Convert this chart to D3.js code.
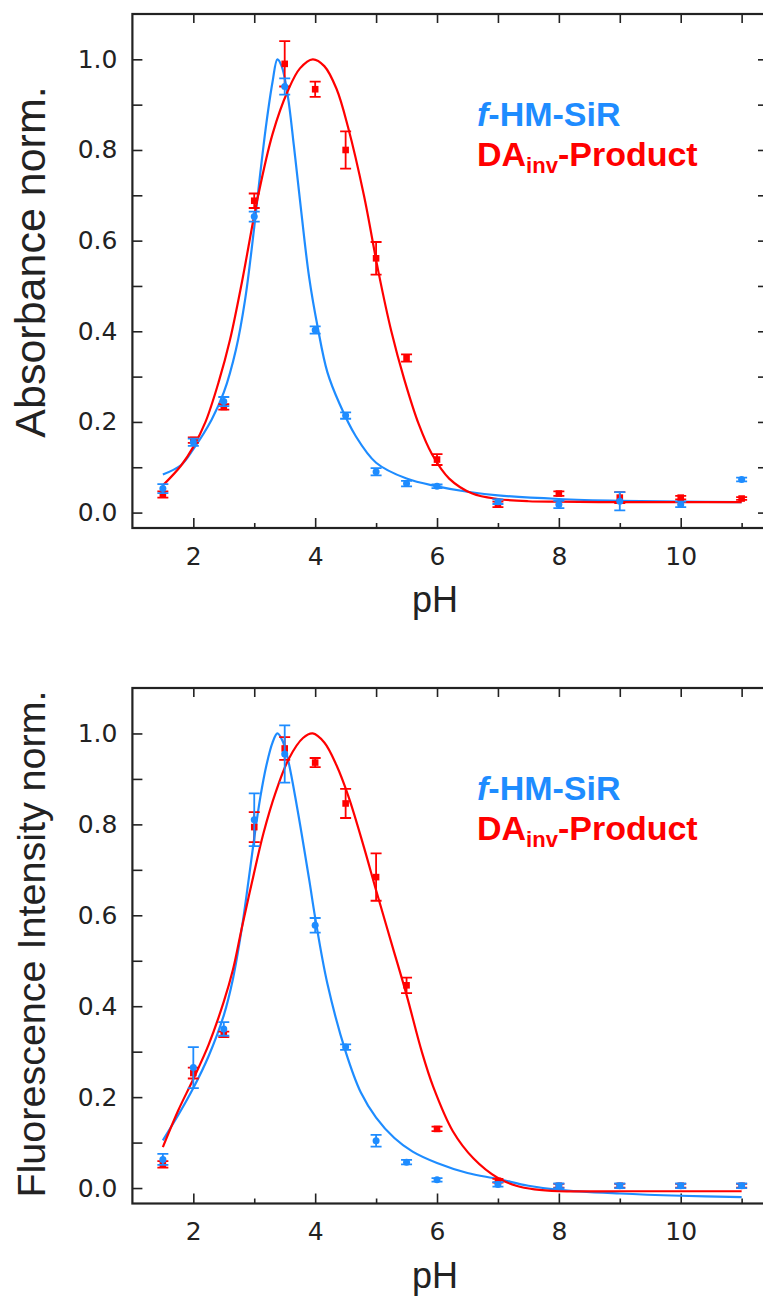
<!DOCTYPE html>
<html>
<head>
<meta charset="utf-8">
<script src="https://cdn.jsdelivr.net/npm/d3@7"></script>
<style>
  body { margin: 0; background: #fff; }
  .tick text { font-family: "DejaVu Sans", Verdana, sans-serif; font-size: 25px; fill: #222; }
  .tick line { stroke: #222; stroke-width: 1.6; }
  .title { font-family: "Liberation Sans", Arial, sans-serif; font-size: 36px; fill: #222; }
  .legend { font-family: "Liberation Sans", Arial, sans-serif; font-size: 34px; font-weight: bold; }
</style>
</head>
<body>
<div class="container"></div>
<script>
var width = 763,
    height = 1296;

var blue = "#1e8cff",
    red = "#ff0000";

// measured pH points
var phValues = [1.5, 2, 2.5, 3, 3.5, 4, 4.5, 5, 5.5, 6, 7, 8, 9, 10, 11];

// absorbance, normalised
var absBlue    = [0.053, 0.155, 0.245, 0.653, 0.94, 0.403, 0.214, 0.09, 0.064, 0.058, 0.024, 0.018, 0.025, 0.018, 0.073];
var absBlueErr = [0.01, 0.008, 0.01, 0.011, 0.018, 0.008, 0.007, 0.008, 0.006, 0.004, 0.005, 0.008, 0.02, 0.006, 0.004];
var absRed     = [0.04, 0.16, 0.233, 0.688, 0.99, 0.934, 0.80, 0.561, 0.341, 0.117, 0.018, 0.042, 0.033, 0.033, 0.031];
var absRedErr  = [0.007, 0.006, 0.006, 0.016, 0.05, 0.017, 0.041, 0.036, 0.008, 0.012, 0.006, 0.005, 0.012, 0.004, 0.003];

// fluorescence intensity, normalised
var fluBlue    = [0.063, 0.265, 0.35, 0.81, 0.955, 0.578, 0.31, 0.104, 0.057, 0.018, 0.008, 0.005, 0.005, 0.005, 0.005];
var fluBlueErr = [0.012, 0.045, 0.015, 0.058, 0.063, 0.016, 0.006, 0.013, 0.005, 0.004, 0.005, 0.005, 0.005, 0.005, 0.005];
var fluRed     = [0.052, 0.253, 0.338, 0.794, 0.967, 0.936, 0.846, 0.684, 0.446, 0.13, 0.016, 0.005, 0.005, 0.005, 0.005];
var fluRedErr  = [0.007, 0.012, 0.006, 0.033, 0.025, 0.01, 0.032, 0.052, 0.017, 0.005, 0.004, 0.004, 0.004, 0.004, 0.004];

// fitted curves
var absBlueFitPh = [1.5, 1.8, 2.0, 2.3, 2.5, 2.7, 2.85, 3.0, 3.1, 3.2, 3.3, 3.38, 3.45, 3.55, 3.65, 3.75, 3.9, 4.04, 4.2, 4.4, 4.66, 5.0, 5.5, 6.0, 6.5, 7.0, 8.0, 9.0, 10.0, 11.0];
var absBlueFit   = [0.084, 0.105, 0.14, 0.205, 0.265, 0.36, 0.47, 0.63, 0.75, 0.86, 0.95, 1.0, 0.985, 0.92, 0.81, 0.69, 0.52, 0.41, 0.31, 0.24, 0.17, 0.11, 0.075, 0.058, 0.046, 0.038, 0.03, 0.026, 0.024, 0.023];
var absRedFitPh  = [1.5, 1.8, 2.0, 2.2, 2.42, 2.6, 2.8, 3.05, 3.3, 3.55, 3.75, 3.96, 4.15, 4.35, 4.54, 4.8, 5.04, 5.25, 5.46, 5.7, 5.92, 6.2, 6.58, 7.0, 7.5, 8.0, 9.0, 10.0, 11.0];
var absRedFit    = [0.06, 0.104, 0.145, 0.20, 0.29, 0.38, 0.51, 0.69, 0.835, 0.93, 0.98, 1.0, 0.985, 0.935, 0.85, 0.70, 0.53, 0.40, 0.295, 0.195, 0.128, 0.075, 0.042, 0.03, 0.025, 0.024, 0.023, 0.023, 0.023];
var fluBlueFitPh = [1.5, 1.75, 2.0, 2.25, 2.5, 2.65, 2.8, 2.9, 3.0, 3.1, 3.2, 3.3, 3.38, 3.46, 3.55, 3.7, 3.9, 4.0, 4.2, 4.5, 4.75, 5.0, 5.3, 5.6, 6.0, 6.5, 7.0, 7.5, 8.0, 9.0, 10.0, 11.0];
var fluBlueFit   = [0.105, 0.16, 0.22, 0.29, 0.38, 0.46, 0.575, 0.67, 0.77, 0.86, 0.93, 0.98, 1.0, 0.985, 0.945, 0.84, 0.68, 0.595, 0.45, 0.30, 0.21, 0.155, 0.11, 0.08, 0.055, 0.033, 0.02, 0.005, -0.004, -0.012, -0.017, -0.02];
var fluRedFitPh  = [1.5, 1.75, 2.0, 2.25, 2.5, 2.65, 2.8, 2.97, 3.15, 3.35, 3.57, 3.8, 3.96, 4.15, 4.35, 4.55, 4.8, 5.0, 5.25, 5.5, 5.75, 5.94, 6.26, 6.6, 7.0, 7.3, 7.6, 8.0, 9.0, 10.0, 11.0];
var fluRedFit    = [0.09, 0.17, 0.24, 0.315, 0.41, 0.48, 0.575, 0.677, 0.78, 0.87, 0.945, 0.99, 1.0, 0.98, 0.93, 0.86, 0.75, 0.655, 0.54, 0.425, 0.30, 0.222, 0.125, 0.065, 0.022, 0.005, -0.003, -0.007, -0.007, -0.007, -0.007];

// axis ticks
var xMajor = [2, 4, 6, 8, 10];
var xMinor = [3, 5, 7, 9, 11];
var xTop = [2, 3, 4, 5, 6, 7, 8, 9, 10, 11];
var yMajor = [0, 0.2, 0.4, 0.6, 0.8, 1.0];
var yMinor = [0.1, 0.3, 0.5, 0.7, 0.9];

var svg = d3.select(".container").append("svg")
    .attr("width", width)
    .attr("height", height);

svg.append("rect").attr("width", width).attr("height", height).attr("fill", "#fff");

var x = d3.scaleLinear().domain([1, 11.4]).range([132.4, 766]);

function zip(a, b) { return a.map(function(v, i) { return [v, b[i]]; }); }

function panel(p) {
  var y = d3.scaleLinear().domain([-0.034, 1.1]).range([p.bottom, p.top]);
  var g = svg.append("g");

  var line = d3.line()
      .x(function(d) { return x(d[0]); })
      .y(function(d) { return y(d[1]); })
      .curve(d3.curveCatmullRom.alpha(0.5));

  // ---------- AXES ----------
  g.append("g").attr("transform", "translate(0," + p.bottom + ")")
    .call(d3.axisBottom(x).tickValues(xMajor).tickSize(-10).tickPadding(19).tickFormat(d3.format("d")));
  g.append("g").attr("transform", "translate(0," + p.bottom + ")")
    .call(d3.axisBottom(x).tickValues(xMinor).tickSize(-5).tickFormat(""));
  g.append("g").attr("transform", "translate(0," + p.top + ")")
    .call(d3.axisTop(x).tickValues(xTop).tickSize(-9).tickFormat(""));
  g.append("g").attr("transform", "translate(" + x(1) + ",0)")
    .call(d3.axisLeft(y).tickValues(yMajor).tickSize(-10).tickPadding(15).tickFormat(d3.format(".1f")));
  g.append("g").attr("transform", "translate(" + x(1) + ",0)")
    .call(d3.axisLeft(y).tickValues(yMinor).tickSize(-10).tickFormat(""));
  if (p.rightTicks) {
    g.append("g").attr("transform", "translate(764,0)")
      .call(d3.axisRight(y).tickValues(yMajor.concat(yMinor)).tickSize(-6).tickFormat(""));
  }
  g.selectAll(".domain").remove();

  g.append("rect")
    .attr("x", x(1)).attr("y", p.top)
    .attr("width", x(11.4) - x(1)).attr("height", p.bottom - p.top)
    .attr("fill", "none").attr("stroke", "#222").attr("stroke-width", 2.2);

  g.append("text").attr("class", "title")
    .attr("transform", "translate(45," + p.titleY + ") rotate(-90)")
    .attr("text-anchor", "middle")
    .style("font-size", p.titleSize + "px")
    .text(p.ylabel);
  g.append("text").attr("class", "title")
    .attr("x", 435).attr("y", p.bottom + 84)
    .attr("text-anchor", "middle")
    .text("pH");

  // ---------- CURVES ----------
  g.append("path").datum(zip(p.blueFitPh, p.blueFit))
    .attr("d", line).attr("fill", "none").attr("stroke", blue).attr("stroke-width", 2.2);
  g.append("path").datum(zip(p.redFitPh, p.redFit))
    .attr("d", line).attr("fill", "none").attr("stroke", red).attr("stroke-width", 2.2);

  // ---------- POINTS ----------
  function points(vals, errs, colour, shape) {
    var pts = phValues.map(function(ph, i) { return { ph: ph, v: vals[i], e: errs[i] }; });
    var s = g.append("g").attr("stroke", colour).attr("fill", colour).attr("stroke-width", 1.8);
    s.selectAll(".eb").data(pts).enter().append("path")
      .attr("fill", "none")
      .attr("d", function(d) {
        var cx = x(d.ph), y0 = y(d.v - d.e), y1 = y(d.v + d.e);
        return "M" + (cx - 5.5) + "," + y1 + "H" + (cx + 5.5) +
               "M" + cx + "," + y1 + "V" + y0 +
               "M" + (cx - 5.5) + "," + y0 + "H" + (cx + 5.5);
      });
    if (shape === "circle") {
      s.selectAll(".pt").data(pts).enter().append("circle")
        .attr("cx", function(d) { return x(d.ph); })
        .attr("cy", function(d) { return y(d.v); })
        .attr("r", 3.5).attr("stroke", "none");
    } else {
      s.selectAll(".pt").data(pts).enter().append("rect")
        .attr("x", function(d) { return x(d.ph) - 3.3; })
        .attr("y", function(d) { return y(d.v) - 3.3; })
        .attr("width", 6.6).attr("height", 6.6).attr("stroke", "none");
    }
  }
  points(p.red, p.redErr, red, "square");
  points(p.blue, p.blueErr, blue, "circle");

  // ---------- LEGEND ----------
  var l1 = g.append("text").attr("class", "legend").attr("x", 477).attr("y", p.top + 112).attr("fill", blue);
  l1.append("tspan").attr("font-style", "italic").text("f");
  l1.append("tspan").text("-HM-SiR");
  var l2 = g.append("text").attr("class", "legend").attr("x", 477).attr("y", p.top + 152).attr("fill", red);
  l2.append("tspan").text("DA");
  l2.append("tspan").attr("font-size", "22px").attr("dy", 7).text("inv");
  l2.append("tspan").attr("dy", -7).text("-Product");
}

panel({
  top: 14, bottom: 528, rightTicks: true,
  ylabel: "Absorbance norm.", titleY: 262, titleSize: 43,
  blue: absBlue, blueErr: absBlueErr, red: absRed, redErr: absRedErr,
  blueFitPh: absBlueFitPh, blueFit: absBlueFit, redFitPh: absRedFitPh, redFit: absRedFit
});

panel({
  top: 688, bottom: 1203.5, rightTicks: false,
  ylabel: "Fluorescence Intensity norm.", titleY: 944, titleSize: 39.5,
  blue: fluBlue, blueErr: fluBlueErr, red: fluRed, redErr: fluRedErr,
  blueFitPh: fluBlueFitPh, blueFit: fluBlueFit, redFitPh: fluRedFitPh, redFit: fluRedFit
});
</script>
</body>
</html>
